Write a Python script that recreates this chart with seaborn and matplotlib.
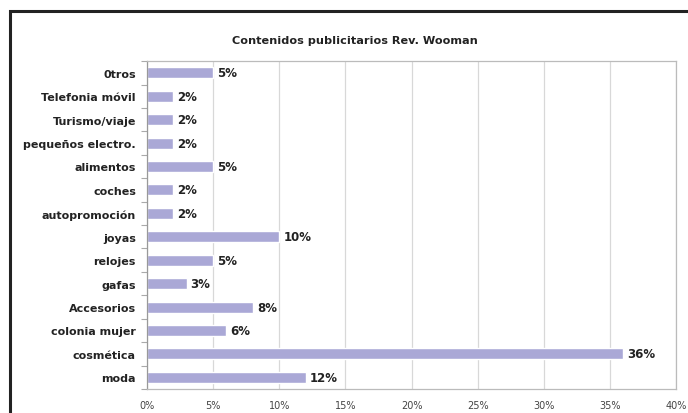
import matplotlib
matplotlib.use('Agg')
import matplotlib.pyplot as plt
import matplotlib.patches as patches
from matplotlib.ticker import FixedLocator, PercentFormatter
import pandas as pd
import seaborn as sns

# datos (de arriba a abajo)
categorias = ['Otros', 'Telefonia móvil', 'Turismo/viaje', 'pequeños electro.',
              'alimentos', 'coches', 'autopromoción', 'joyas', 'relojes', 'gafas',
              'Accesorios', 'colonia mujer', 'cosmética', 'moda']
valores = [5, 2, 2, 2, 5, 2, 2, 10, 5, 3, 8, 6, 36, 12]
etiquetas = ['0tros', 'Telefonia móvil', 'Turismo/viaje', 'pequeños electro.',
             'alimentos', 'coches', 'autopromoción', 'joyas', 'relojes', 'gafas',
             'Accesorios', 'colonia mujer', 'cosmética', 'moda']
titulo = 'Contenidos publicitarios Rev. Wooman'

df = pd.DataFrame({'categoria': categorias, 'valor': valores})

sns.set_style('white')
plt.rcParams['font.family'] = ['DejaVu Sans']

fig = plt.figure(figsize=(6.88, 4.14), dpi=100)
ax = fig.add_axes([0.2137, 0.058, 0.769, 0.792])

sns.barplot(data=df, y='categoria', x='valor', orient='h', order=categorias,
            color='#aaa8d6', saturation=1, width=0.47, ax=ax)

ax.set_xlim(0, 40)
ax.set_ylim(len(categorias) - 0.5, -0.5)
ax.set_xticks(range(0, 41, 5))
ax.xaxis.set_major_formatter(PercentFormatter(decimals=0))
ax.set_yticks(range(len(categorias)))
ax.set_yticklabels(etiquetas, fontsize=8, fontweight='bold', color='#222222')
ax.yaxis.set_minor_locator(FixedLocator([i + 0.5 for i in range(-1, len(categorias))]))
ax.tick_params(axis='y', which='major', length=0, pad=8)
ax.tick_params(axis='y', which='minor', left=True, direction='out', length=4,
               color='#aaaaaa', width=0.8)
ax.tick_params(axis='x', length=0, labelsize=7, labelcolor='#444444', pad=8)
ax.set_xlabel('')
ax.set_ylabel('')

ax.grid(axis='x', color='#d8d8d8', linewidth=0.9)
ax.set_axisbelow(True)
for s in ax.spines.values():
    s.set_color('#bbbbbb')
    s.set_linewidth(0.9)
ax.spines['left'].set_color('#999999')

for i, v in enumerate(valores):
    ax.text(v + 0.3, i, f'{v}%', va='center', ha='left', fontsize=8.5,
            fontweight='bold', color='#222222')

fig.text(0.516, 0.9, titulo, ha='center', va='center', fontsize=8.1,
         fontweight='bold', color='#222222')

# marco negro alrededor
fig.patches.append(patches.Rectangle((10 / 688, -0.05), 1.1, 1 - 12 / 414 + 0.05,
                                     transform=fig.transFigure, fill=False,
                                     edgecolor='#222222', linewidth=2.2))

fig.savefig('out.png', dpi=100)
